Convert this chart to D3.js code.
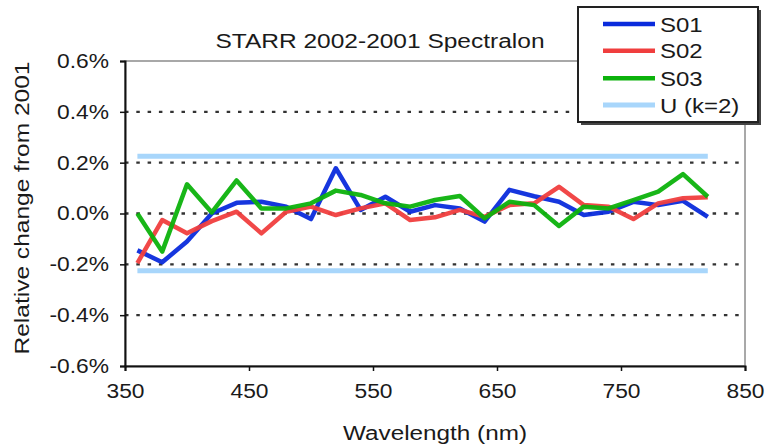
<!DOCTYPE html>
<html><head><meta charset="utf-8">
<script src="https://cdn.jsdelivr.net/npm/d3@7"></script>
<style>body{margin:0;background:#fff}text{font-family:"Liberation Sans",Arial,sans-serif;fill:#1a1a1a}</style>
</head><body><svg id="c" width="767" height="447"></svg>
<script>
const wavelengths = [360,380,400,420,440,460,480,500,520,540,560,580,600,620,640,660,680,700,720,740,760,780,800,820];
const s01 = [-0.145,-0.192,-0.11,0.0,0.042,0.046,0.027,-0.022,0.178,0.014,0.066,0.007,0.033,0.02,-0.032,0.093,0.068,0.046,-0.006,0.007,0.046,0.033,0.05,-0.013];
const s02 = [-0.195,-0.026,-0.078,-0.03,0.007,-0.078,0.007,0.027,-0.006,0.02,0.04,-0.026,-0.015,0.014,-0.013,0.033,0.04,0.105,0.033,0.027,-0.022,0.04,0.06,0.064];
const s03 = [0.0,-0.15,0.115,0.004,0.13,0.02,0.02,0.04,0.09,0.073,0.04,0.027,0.053,0.069,-0.019,0.046,0.033,-0.049,0.027,0.02,0.053,0.086,0.155,0.066];
const uLimit = 0.225;
const uRange = [360, 820];
const seriesNames = ["S01","S02","S03","U (k=2)"];
const seriesColors = ["#0a2bdc","#f03e3e","#0cb20c","#a8d6fb"];
const xTicks = [350,450,550,650,750,850];
const yTicks = [-0.6,-0.4,-0.2,0.0,0.2,0.4,0.6];
const gridTicks = [-0.4,-0.2,0.0,0.2,0.4];

const svg = d3.select("#c");
const L=125, R=745, T=61, B=366;
const x = d3.scaleLinear().domain([350,850]).range([L,R]);
const y = d3.scaleLinear().domain([-0.6,0.6]).range([B,T]);

function stretch(sel, f){ sel.each(function(){ const l=this.getComputedTextLength(); d3.select(this).attr("textLength", l*f).attr("lengthAdjust","spacingAndGlyphs"); }); }

// plot frame (top/right gray)
svg.append("rect").attr("x",L).attr("y",T).attr("width",R-L).attr("height",B-T).attr("fill","none").attr("stroke","#8c8c8c").attr("stroke-width",1.5);

// gridlines
svg.append("g").selectAll("line").data(gridTicks).join("line")
  .attr("x1",L).attr("x2",R).attr("y1",d=>y(d)).attr("y2",d=>y(d))
  .attr("stroke","#333").attr("stroke-width",2.4).attr("stroke-dasharray","3.5,7.8");

// U lines
[uLimit,-uLimit].forEach(v=>{
  svg.append("line").attr("x1",x(uRange[0])).attr("x2",x(uRange[1])).attr("y1",y(v)).attr("y2",y(v))
    .attr("stroke",seriesColors[3]).attr("stroke-width",5);
});

// series
const line = d3.line().x((d,i)=>x(wavelengths[i])).y(d=>y(d));
[s01,s02,s03].forEach((s,k)=>{
  svg.append("path").attr("d",line(s)).attr("fill","none").attr("stroke",seriesColors[k])
    .attr("stroke-width",4.5).attr("stroke-linejoin","round").attr("stroke-opacity",0.95);
});

// axes
const xa = svg.append("g").attr("transform",`translate(0,${B})`)
  .call(d3.axisBottom(x).tickValues(xTicks).tickSize(5).tickPadding(13).tickFormat(d3.format("d")));
const ya = svg.append("g").attr("transform",`translate(${L},0)`)
  .call(d3.axisLeft(y).tickValues(yTicks).tickSize(5).tickPadding(11).tickFormat(d=>d.toFixed(1)+"%"));
[xa,ya].forEach(a=>{
  a.select(".domain").attr("stroke","#111").attr("stroke-width",2);
  a.selectAll(".tick line").attr("stroke","#111").attr("stroke-width",1.5);
  a.selectAll(".tick text").attr("font-size",20).attr("fill","#1a1a1a").style("font-family","Liberation Sans, Arial, sans-serif");
  stretch(a.selectAll(".tick text"),1.14);
});

// titles
svg.append("text").attr("x",380).attr("y",48).attr("text-anchor","middle").attr("font-size",20)
  .text("STARR 2002-2001 Spectralon").attr("textLength",329).attr("lengthAdjust","spacingAndGlyphs");
svg.append("text").attr("transform","translate(29,208) rotate(-90)").attr("text-anchor","middle").attr("font-size",20)
  .text("Relative change from 2001").attr("textLength",293).attr("lengthAdjust","spacingAndGlyphs");
svg.append("text").attr("x",435).attr("y",440).attr("text-anchor","middle").attr("font-size",20)
  .text("Wavelength (nm)").attr("textLength",184).attr("lengthAdjust","spacingAndGlyphs");

// legend
const lg = svg.append("g");
lg.append("rect").attr("x",581).attr("y",10).attr("width",180).attr("height",115).attr("fill","#444");
lg.append("rect").attr("x",578).attr("y",7).attr("width",180).attr("height",115).attr("fill","#fff").attr("stroke","#222").attr("stroke-width",2);
const ly = [24,50.7,78.3,105];
seriesNames.forEach((n,i)=>{
  lg.append("line").attr("x1",603).attr("x2",655).attr("y1",ly[i]).attr("y2",ly[i]).attr("stroke",seriesColors[i]).attr("stroke-width",i===3?5:4.5);
  const t = lg.append("text").attr("x",660).attr("y",ly[i]+7.5).attr("font-size",20.5).text(n);
  stretch(t,1.17);
});
</script></body></html>
